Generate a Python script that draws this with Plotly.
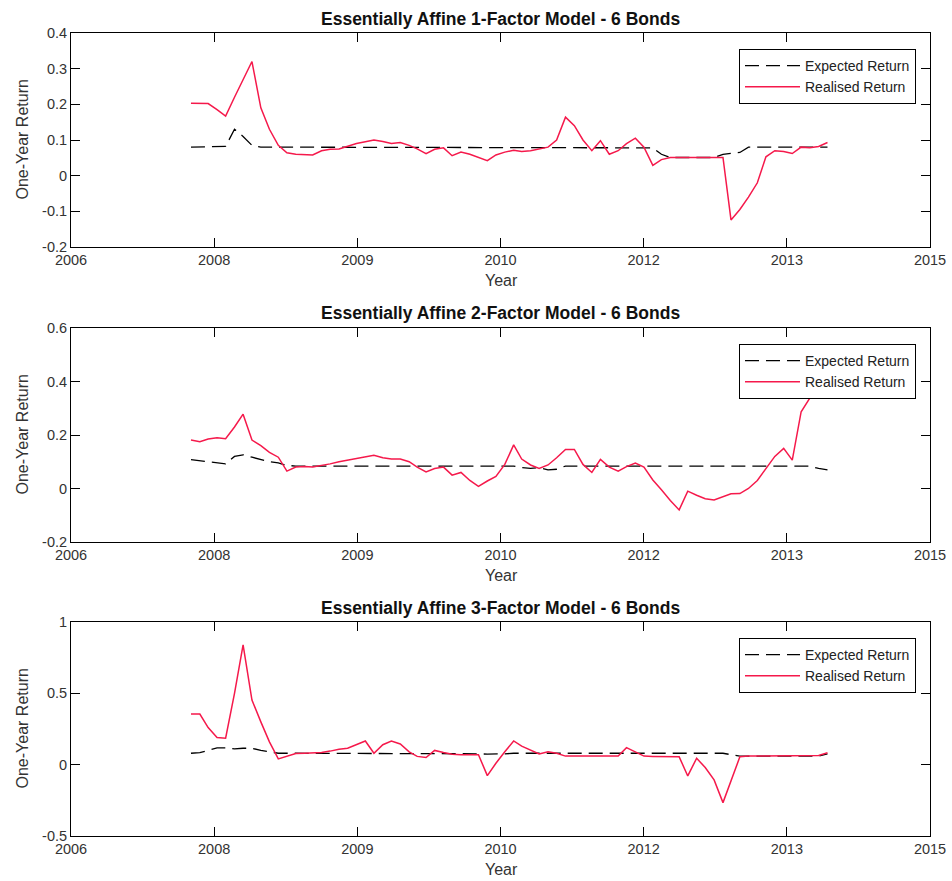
import pandas as pd
import plotly.graph_objects as go

# ---------------- data ----------------
dates = (pd.date_range("2008-01-01", periods=74, freq="MS") + pd.Timedelta(days=11)).strftime("%Y-%m-%d").tolist()

expected_1 = [0.08, 0.08, 0.08, 0.08, 0.082, 0.13, 0.11, 0.085, 0.08, 0.08,
              0.08, 0.08, 0.08, 0.08, 0.08, 0.08, 0.08, 0.08, 0.08, 0.08,
              0.08, 0.08, 0.08, 0.08, 0.08, 0.08, 0.08, 0.08, 0.08, 0.08,
              0.08, 0.08, 0.08, 0.08, 0.08, 0.08, 0.08, 0.08, 0.08, 0.08,
              0.08, 0.08, 0.08, 0.08, 0.08, 0.08, 0.08, 0.08, 0.08, 0.08,
              0.08, 0.08, 0.08, 0.078, 0.06, 0.051, 0.051, 0.051, 0.051, 0.051,
              0.051, 0.06, 0.062, 0.065, 0.08, 0.08, 0.08, 0.08, 0.08, 0.08,
              0.08, 0.08, 0.08, 0.08]
realised_1 = [0.203, 0.203, 0.202, 0.185, 0.167, 0.22, 0.27, 0.32, 0.19, 0.13,
              0.085, 0.064, 0.06, 0.058, 0.058, 0.07, 0.074, 0.075, 0.083, 0.09,
              0.095, 0.1, 0.096, 0.09, 0.093, 0.085, 0.075, 0.062, 0.074, 0.078,
              0.056, 0.066, 0.06, 0.052, 0.042, 0.058, 0.066, 0.071, 0.068, 0.07,
              0.074, 0.08, 0.1, 0.164, 0.14, 0.1, 0.07, 0.098, 0.06, 0.07,
              0.09, 0.105, 0.08, 0.029, 0.045, 0.051, 0.051, 0.051, 0.051, 0.051,
              0.051, 0.051, -0.124, -0.095, -0.06, -0.02, 0.053, 0.07, 0.068, 0.062,
              0.08, 0.078, 0.082, 0.093]

expected_2 = [0.108, 0.104, 0.1, 0.096, 0.092, 0.12, 0.126, 0.117, 0.108, 0.1,
              0.096, 0.086, 0.084, 0.084, 0.084, 0.084, 0.084, 0.084, 0.084, 0.084,
              0.084, 0.084, 0.084, 0.084, 0.084, 0.084, 0.084, 0.084, 0.084, 0.084,
              0.084, 0.084, 0.084, 0.084, 0.084, 0.084, 0.084, 0.084, 0.078, 0.075,
              0.078, 0.07, 0.072, 0.084, 0.084, 0.084, 0.084, 0.084, 0.084, 0.084,
              0.084, 0.084, 0.084, 0.084, 0.084, 0.084, 0.084, 0.084, 0.084, 0.084,
              0.084, 0.084, 0.084, 0.084, 0.084, 0.084, 0.084, 0.084, 0.084, 0.084,
              0.084, 0.084, 0.075, 0.07]
realised_2 = [0.181, 0.175, 0.185, 0.19, 0.186, 0.23, 0.278, 0.181, 0.16, 0.135,
              0.117, 0.065, 0.08, 0.082, 0.08, 0.085, 0.092, 0.1, 0.106, 0.112,
              0.118, 0.124, 0.115, 0.11, 0.11, 0.1, 0.08, 0.062, 0.075, 0.08,
              0.05, 0.06, 0.03, 0.008, 0.028, 0.045, 0.09, 0.163, 0.11, 0.088,
              0.075, 0.088, 0.115, 0.146, 0.146, 0.09, 0.06, 0.109, 0.08, 0.065,
              0.082, 0.095, 0.08, 0.032, -0.005, -0.045, -0.08, -0.01, -0.025, -0.038,
              -0.043, -0.03, -0.02, -0.019, 0.0, 0.03, 0.075, 0.12, 0.15, 0.106,
              0.287, 0.337, 0.39, 0.45]

expected_3 = [0.08, 0.085, 0.1, 0.118, 0.118, 0.11, 0.115, 0.115, 0.1, 0.088,
              0.08, 0.08, 0.08, 0.08, 0.08, 0.08, 0.08, 0.08, 0.08, 0.08,
              0.08, 0.08, 0.08, 0.08, 0.08, 0.08, 0.08, 0.08, 0.08, 0.08,
              0.08, 0.08, 0.08, 0.076, 0.074, 0.074, 0.076, 0.08, 0.08, 0.08,
              0.08, 0.08, 0.08, 0.08, 0.08, 0.08, 0.08, 0.08, 0.08, 0.08,
              0.08, 0.08, 0.08, 0.08, 0.08, 0.08, 0.08, 0.08, 0.08, 0.078,
              0.078, 0.08, 0.07, 0.06, 0.06, 0.06, 0.06, 0.06, 0.06, 0.06,
              0.06, 0.06, 0.06, 0.075]
realised_3 = [0.355, 0.355, 0.26, 0.19, 0.186, 0.5, 0.839, 0.453, 0.3, 0.16,
              0.04, 0.06, 0.078, 0.08, 0.083, 0.085, 0.095, 0.108, 0.115, 0.14,
              0.166, 0.08, 0.14, 0.166, 0.145, 0.09, 0.058, 0.05, 0.1, 0.085,
              0.073, 0.07, 0.07, 0.07, -0.077, 0.01, 0.09, 0.166, 0.13, 0.1,
              0.075, 0.09, 0.08, 0.06, 0.06, 0.06, 0.06, 0.06, 0.06, 0.06,
              0.119, 0.09, 0.06, 0.058, 0.058, 0.058, 0.055, -0.079, 0.045, -0.02,
              -0.107, -0.266, -0.11, 0.055, 0.06, 0.06, 0.06, 0.06, 0.06, 0.06,
              0.06, 0.06, 0.065, 0.083]

titles = ["Essentially Affine 1-Factor Model - 6 Bonds",
          "Essentially Affine 2-Factor Model - 6 Bonds",
          "Essentially Affine 3-Factor Model - 6 Bonds"]
series_names = ["Expected Return", "Realised Return"]
x_label = "Year"
y_label = "One-Year Return"

# x ticks every 500 days (MATLAB datenum 733000 ... 736000)
x_tick_labels = ["2006", "2008", "2009", "2010", "2012", "2013", "2015"]
x_tick_start = pd.Timestamp("2006-11-19")
x_tick_step_days = 500

y_ranges = [[-0.2, 0.4], [-0.2, 0.6], [-0.5, 1.0]]
y_tick_vals = [[-0.2, -0.1, 0, 0.1, 0.2, 0.3, 0.4],
               [-0.2, 0, 0.2, 0.4, 0.6],
               [-0.5, 0, 0.5, 1]]
y_tick_labels = [["-0.2", "-0.1", "0", "0.1", "0.2", "0.3", "0.4"],
                 ["-0.2", "0", "0.2", "0.4", "0.6"],
                 ["-0.5", "0", "0.5", "1"]]

expected_all = [expected_1, expected_2, expected_3]
realised_all = [realised_1, realised_2, realised_3]

# ---------------- layout geometry ----------------
W, H = 952, 881
plot_left, plot_right = 71, 930
plot_tops = [33, 328, 622]
plot_bottoms = [247, 542, 836]
title_y = [19, 313, 607.5]
xlabel_y = [280, 575, 869.5]
legend_top = [49, 344, 638]
legend_right = 916

RED = "rgb(245,25,75)"
FONT = "Liberation Sans, Arial, Helvetica, sans-serif"

tickvals_x = [(x_tick_start + pd.Timedelta(days=x_tick_step_days * k)).strftime("%Y-%m-%d")
              for k in range(len(x_tick_labels))]
x_range = [tickvals_x[0], tickvals_x[-1]]

fig = go.Figure()
layout = dict(width=W, height=H, margin=dict(l=0, r=0, t=0, b=0, autoexpand=False),
              paper_bgcolor="white", plot_bgcolor="white",
              font=dict(family=FONT, color="#222"), annotations=[])

for k in range(3):
    sfx = "" if k == 0 else str(k + 1)
    leg = "legend" + sfx
    fig.add_trace(go.Scatter(x=dates, y=expected_all[k], mode="lines", name=series_names[0],
                             line=dict(color="black", width=1.3, dash="14px,7px"),
                             xaxis="x" + sfx, yaxis="y" + sfx, legend=leg))
    fig.add_trace(go.Scatter(x=dates, y=realised_all[k], mode="lines", name=series_names[1],
                             line=dict(color=RED, width=1.5),
                             xaxis="x" + sfx, yaxis="y" + sfx, legend=leg))
    ydom = [1 - plot_bottoms[k] / H, 1 - plot_tops[k] / H]
    layout["xaxis" + sfx] = dict(domain=[plot_left / W, plot_right / W], anchor="y" + sfx,
                                 type="date", range=x_range, tickvals=tickvals_x,
                                 ticktext=x_tick_labels, ticks="inside", ticklen=9,
                                 tickcolor="black", showline=True, linecolor="black",
                                 linewidth=1, mirror="allticks", showgrid=False,
                                 zeroline=False, automargin=False,
                                 tickfont=dict(size=14.5, color="#333"))
    layout["yaxis" + sfx] = dict(domain=ydom, anchor="x" + sfx, range=y_ranges[k],
                                 tickvals=y_tick_vals[k], ticktext=y_tick_labels[k],
                                 ticks="inside", ticklen=9, tickcolor="black",
                                 showline=True, linecolor="black", linewidth=1,
                                 mirror="allticks", showgrid=False, zeroline=False,
                                 automargin=False,
                                 tickfont=dict(size=14.5, color="#333"))
    layout[leg] = dict(x=legend_right / W, xanchor="right", y=1 - legend_top[k] / H,
                       yanchor="top", bgcolor="white", bordercolor="black", borderwidth=1,
                       font=dict(size=14, color="#222"), tracegroupgap=0, itemwidth=55)
    cx = (plot_left + plot_right) / 2 / W
    layout["annotations"] += [
        dict(text="<b>" + titles[k] + "</b>", x=cx, y=1 - title_y[k] / H, xref="paper",
             yref="paper", xanchor="center", yanchor="middle", showarrow=False,
             font=dict(size=17.5, color="#111")),
        dict(text=x_label, x=501.5 / W, y=1 - xlabel_y[k] / H, xref="paper", yref="paper",
             xanchor="center", yanchor="middle", showarrow=False,
             font=dict(size=16, color="#333")),
        dict(text=y_label, x=21.5 / W, y=1 - (plot_tops[k] + plot_bottoms[k]) / 2 / H,
             xref="paper", yref="paper", xanchor="center", yanchor="middle",
             textangle=-90, showarrow=False, font=dict(size=16, color="#333")),
    ]

fig.update_layout(**layout)
fig.write_html("out.html")
